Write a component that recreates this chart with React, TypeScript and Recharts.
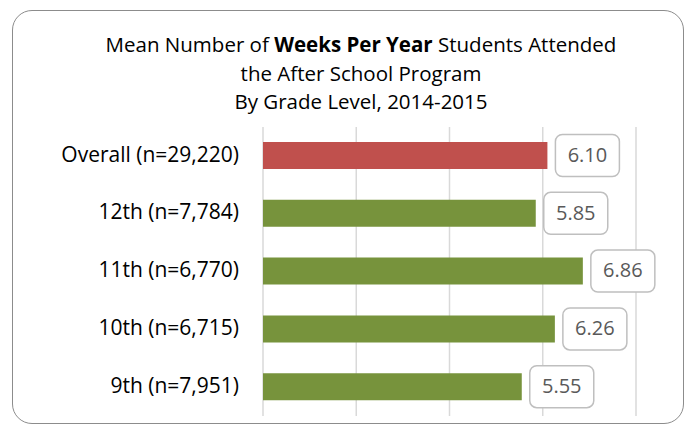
import { BarChart, Bar, XAxis, YAxis, CartesianGrid, Cell, LabelList } from 'recharts'

const categories = ['Overall (n=29,220)', '12th (n=7,784)', '11th (n=6,770)', '10th (n=6,715)', '9th (n=7,951)']
const weeks = [6.10, 5.85, 6.86, 6.26, 5.55]
const barColors = ['#c0504d', '#77933c', '#77933c', '#77933c', '#77933c']
const xTicks = [0, 2, 4, 6, 8]

const data = categories.map((name, i) => ({ name, weeks: weeks[i] }))

const FONT = '"Open Sans", sans-serif'

function ValueBox(props: any) {
  const { x, y, width, height, value } = props
  const bx = x + width + 8
  const cy = y + height / 2
  return (
    <g>
      <rect x={bx} y={cy - 21} width={64} height={42} rx={7} ry={7} fill="#fff" stroke="#bfbfbf" strokeWidth={1.5} />
      <text x={bx + 32} y={cy + 1} textAnchor="middle" dominantBaseline="middle" fontSize={20} fill="#595959" fontFamily={FONT}>
        {Number(value).toFixed(2)}
      </text>
    </g>
  )
}

function CategoryTick(props: any) {
  const { x, y, payload } = props
  return (
    <text x={x - 16} y={y} textAnchor="end" dominantBaseline="middle" fontSize={21} fill="#000" fontFamily={FONT}>
      {payload.value}
    </text>
  )
}

export default function App() {
  return (
    <div style={{ position: 'absolute', left: 0, top: 0, width: 688, height: 426, background: '#fff', overflow: 'hidden' }}>
      <div style={{
        position: 'absolute', left: 12, top: 10, width: 672, height: 414,
        border: '1.5px solid #8c8c8c', borderRadius: 20, boxSizing: 'border-box',
      }} />
      <div style={{
        position: 'absolute', left: 0, top: 30, width: 722, textAlign: 'center',
        fontFamily: FONT, fontSize: 20.5, lineHeight: '28.5px', color: '#000',
      }}>
        Mean Number of <b>Weeks Per Year</b> Students Attended<br />
        the After School Program<br />
        By Grade Level, 2014-2015
      </div>
      <div style={{ position: 'absolute', left: 0, top: 0 }}>
        <BarChart
          width={688}
          height={426}
          data={data}
          layout="vertical"
          margin={{ top: 127, right: 52, bottom: 10, left: 0 }}
        >
          <CartesianGrid horizontal={false} stroke="#d9d9d9" strokeWidth={1.5} />
          <XAxis type="number" domain={[0, 8]} ticks={xTicks} hide />
          <YAxis
            type="category"
            dataKey="name"
            width={263}
            axisLine={false}
            tickLine={false}
            tick={<CategoryTick />}
          />
          <Bar dataKey="weeks" barSize={27} isAnimationActive={false}>
            {data.map((d, i) => (
              <Cell key={d.name} fill={barColors[i]} />
            ))}
            <LabelList dataKey="weeks" content={<ValueBox />} />
          </Bar>
        </BarChart>
      </div>
    </div>
  )
}
